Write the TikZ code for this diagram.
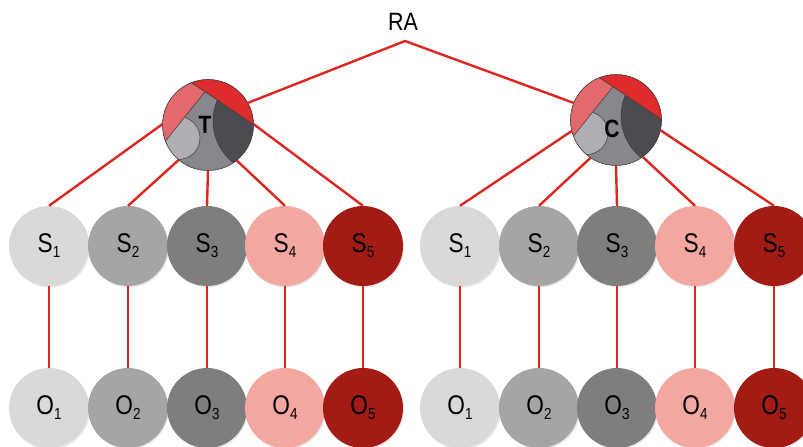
\documentclass[tikz,border=0pt]{standalone}
\usepackage{fontspec}
\setmainfont[FakeStretch=0.84]{Liberation Sans}
\newfontfamily\titlefont[FakeStretch=0.86]{Liberation Sans}
\usetikzlibrary{shadows}

\definecolor{linkred}{HTML}{DC2620}
\definecolor{sA}{HTML}{D9D9D9}
\definecolor{sB}{HTML}{A5A5A5}
\definecolor{sC}{HTML}{7E7E7E}
\definecolor{sD}{HTML}{F2A7A1}
\definecolor{sE}{HTML}{A21C15}
\definecolor{topr}{HTML}{DE2B2B}
\definecolor{pinkr}{HTML}{E36A6C}
\definecolor{ltg}{HTML}{AFAEB4}
\definecolor{midg}{HTML}{87878C}
\definecolor{dkg}{HTML}{4C4B51}
\definecolor{edgeg}{HTML}{3C3C40}

% label with a lowered index
\newcommand\idx[2]{#1\raisebox{-5pt}{\fontsize{16}{16}\selectfont #2}}

% segmented disc drawn around a given centre
\newcommand\mixdisc[2]{%
  \begin{scope}[shift={(#1,#2)}]
    \begin{scope}
      \clip (0,0) circle (45.5pt);
      \fill[midg] (-60,-60) rectangle (60,60);
      \filldraw[fill=ltg, draw=edgeg, line width=0.5pt] (-29.5,13) circle (21.5pt);
      \filldraw[fill=dkg, draw=edgeg, line width=0.5pt] (58,-4) circle (53pt);
      \filldraw[fill=pinkr, draw=edgeg, line width=0.5pt]
        (-3,-33.3) -- (-59,36.7) -- (-80,36.7) -- (-80,-85.1) -- cycle;
      \filldraw[fill=topr, draw=edgeg, line width=0.5pt]
        (-80,-85.1) -- (80,22.7) -- (80,-100) -- (-80,-100) -- cycle;
    \end{scope}
    \draw[edgeg, line width=0.6pt] (0,0) circle (45.5pt);
  \end{scope}}

\tikzset{
  ball/.style={circle, minimum size=80pt, inner sep=0pt, draw=none,
    font=\fontsize{27}{27}\selectfont, text=black,
    drop shadow={shadow xshift=1pt, shadow yshift=-1.5pt, opacity=0.18}},
  hub/.style={circle, minimum size=91pt, inner sep=0pt, draw=none},
  hubtext/.style={font=\fontsize{25}{25}\selectfont\bfseries, inner sep=0pt},
  link/.style={draw=linkred, line width=2.4pt},
}

\begin{document}
\begin{tikzpicture}[x=1pt,y=-1pt]
  \useasboundingbox (0,0) rectangle (803,447);

  % title and apex of the top connector
  \node[font=\fontsize{25}{25}\selectfont\titlefont] (ra) at (403,22) {RA};
  \coordinate (apex) at (405,41);

  % the two segmented hubs
  \node[hub] (T) at (208,125) {};
  \node[hub] (C) at (616,120) {};
  \mixdisc{208}{125}
  \mixdisc{616}{120}
  \node[hubtext] (Tl) at (205,125) {T};
  \node[hubtext] (Cl) at (612,129) {C};

  % left group
  \node[ball, fill=sA] (s1) at (49,246)  {\idx{S}{1}};
  \node[ball, fill=sB] (s2) at (128,246) {\idx{S}{2}};
  \node[ball, fill=sC] (s3) at (207,246) {\idx{S}{3}};
  \node[ball, fill=sD] (s4) at (285,246) {\idx{S}{4}};
  \node[ball, fill=sE] (s5) at (363,246) {\idx{S}{5}};
  \node[ball, fill=sA] (o1) at (49,408)  {\idx{O}{1}};
  \node[ball, fill=sB] (o2) at (128,408) {\idx{O}{2}};
  \node[ball, fill=sC] (o3) at (207,408) {\idx{O}{3}};
  \node[ball, fill=sD] (o4) at (285,408) {\idx{O}{4}};
  \node[ball, fill=sE] (o5) at (363,408) {\idx{O}{5}};

  % right group
  \node[ball, fill=sA] (r1) at (460,246) {\idx{S}{1}};
  \node[ball, fill=sB] (r2) at (539,246) {\idx{S}{2}};
  \node[ball, fill=sC] (r3) at (617,246) {\idx{S}{3}};
  \node[ball, fill=sD] (r4) at (695,246) {\idx{S}{4}};
  \node[ball, fill=sE] (r5) at (774,246) {\idx{S}{5}};
  \node[ball, fill=sA] (p1) at (460,408) {\idx{O}{1}};
  \node[ball, fill=sB] (p2) at (539,408) {\idx{O}{2}};
  \node[ball, fill=sC] (p3) at (617,408) {\idx{O}{3}};
  \node[ball, fill=sD] (p4) at (695,408) {\idx{O}{4}};
  \node[ball, fill=sE] (p5) at (774,408) {\idx{O}{5}};

  % top connector
  \draw[link] (T.29) -- (apex) -- (C.158);

  % hub to S connectors
  \draw[link] (T.179) -- (s1.north);
  \draw[link] (T.230) -- (s2.north);
  \draw[link] (T.270) -- (s3.north);
  \draw[link] (T.309) -- (s4.north);
  \draw[link] (T.1)   -- (s5.north);
  \draw[link] (C.194) -- (r1.north);
  \draw[link] (C.236) -- (r2.north);
  \draw[link] (C.270) -- (r3.north);
  \draw[link] (C.306) -- (r4.north);
  \draw[link] (C.347) -- (r5.north);

  % S to O connectors
  \foreach \a/\b in {s1/o1,s2/o2,s3/o3,s4/o4,s5/o5,r1/p1,r2/p2,r3/p3,r4/p4,r5/p5}
    \draw[link] (\a.south) -- (\b.north);
\end{tikzpicture}
\end{document}
